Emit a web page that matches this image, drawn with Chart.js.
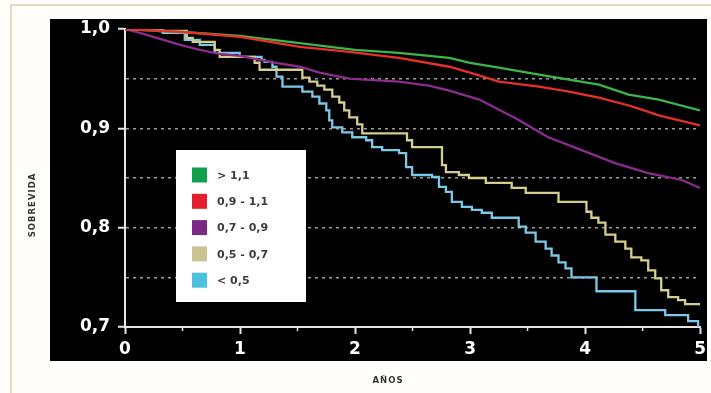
<!DOCTYPE html>
<html>
<head>
<meta charset="utf-8">
<script src="https://cdn.jsdelivr.net/npm/chart.js@4/dist/chart.umd.min.js"></script>
<style>
  html, body { margin: 0; padding: 0; background: #fffefa; }
  #wrap { width: 711px; height: 393px; position: relative; }
</style>
</head>
<body>
<div id="wrap"><canvas id="c" width="711" height="393"></canvas></div>
<script>
// ---- Data ----
const seriesLabels = ['> 1,1', '0,9 - 1,1', '0,7 - 0,9', '0,5 - 0,7', '< 0,5'];
const xTickLabels = ['0', '1', '2', '3', '4', '5'];
const yTickLabels = ['0,7', '0,8', '0,9', '1,0'];

// > 1,1 (green)
const greenT = [0, 0.5, 1.0, 1.5, 2.0, 2.38, 2.82, 3.0, 3.25, 3.6, 3.86, 4.12, 4.38, 4.64, 5.0];
const greenS = [1.0, 0.997, 0.993, 0.986, 0.979, 0.976, 0.971, 0.966, 0.961, 0.954, 0.949, 0.944, 0.934, 0.929, 0.918];

// 0,9 - 1,1 (red)
const redT = [0, 0.5, 1.0, 1.52, 1.95, 2.38, 2.82, 3.0, 3.25, 3.6, 3.86, 4.12, 4.38, 4.46, 4.64, 5.0];
const redS = [1.0, 0.997, 0.992, 0.982, 0.977, 0.971, 0.962, 0.956, 0.947, 0.942, 0.937, 0.931, 0.923, 0.920, 0.913, 0.903];

// 0,7 - 0,9 (purple)
const purpleT = [0, 0.13, 0.48, 0.65, 0.82, 1.0, 1.26, 1.52, 1.69, 1.95, 2.38, 2.64, 2.82, 3.08, 3.40, 3.68, 3.97, 4.26, 4.55, 4.84, 5.0];
const purpleS = [1.0, 0.996, 0.984, 0.979, 0.975, 0.973, 0.967, 0.962, 0.956, 0.950, 0.947, 0.943, 0.938, 0.929, 0.910, 0.891, 0.878, 0.865, 0.855, 0.848, 0.840];

// 0,5 - 0,7 (olive), step curve
const oliveT = [0, 0.303, 0.537, 0.589, 0.780, 0.823, 1.127, 1.170, 1.542, 1.603, 1.672, 1.733, 1.802, 1.863, 1.906, 1.950, 2.019, 2.063, 2.452, 2.496, 2.756, 2.790, 2.903, 2.990, 3.137, 3.362, 3.484, 3.769, 4.012, 4.055, 4.116, 4.177, 4.263, 4.350, 4.402, 4.489, 4.549, 4.610, 4.662, 4.723, 4.809, 4.870, 5.0];
const oliveS = [1.0, 0.998, 0.991, 0.987, 0.979, 0.972, 0.966, 0.959, 0.951, 0.947, 0.943, 0.939, 0.932, 0.926, 0.918, 0.911, 0.904, 0.895, 0.888, 0.881, 0.863, 0.856, 0.853, 0.850, 0.845, 0.840, 0.835, 0.826, 0.816, 0.810, 0.805, 0.793, 0.786, 0.779, 0.770, 0.767, 0.757, 0.749, 0.737, 0.730, 0.727, 0.723, 0.723];

// < 0,5 (light blue), step curve
const blueT = [0, 0.329, 0.520, 0.650, 0.780, 0.997, 1.187, 1.213, 1.282, 1.317, 1.369, 1.542, 1.629, 1.690, 1.750, 1.776, 1.802, 1.889, 1.976, 2.097, 2.149, 2.236, 2.383, 2.444, 2.496, 2.669, 2.730, 2.790, 2.842, 2.929, 3.016, 3.102, 3.189, 3.423, 3.484, 3.570, 3.657, 3.709, 3.769, 3.830, 3.882, 4.099, 4.437, 4.697, 4.896, 4.983];
const blueS = [1.0, 0.996, 0.989, 0.984, 0.976, 0.972, 0.969, 0.967, 0.962, 0.952, 0.942, 0.937, 0.932, 0.925, 0.918, 0.908, 0.901, 0.896, 0.891, 0.888, 0.881, 0.878, 0.875, 0.861, 0.853, 0.851, 0.841, 0.836, 0.826, 0.821, 0.818, 0.815, 0.810, 0.801, 0.795, 0.786, 0.779, 0.772, 0.765, 0.759, 0.750, 0.736, 0.717, 0.712, 0.706, 0.700];

const lineColors = ['#3cb54b', '#e8302a', '#8c2c90', '#d4ce8f', '#7cc8e8'];
const legendColors = ['#0fa04b', '#e41f2d', '#7a2a84', '#c9c291', '#4ac1dd'];

function pts(t, s) { return t.map((x, i) => ({ x: x, y: s[i] })); }

const seriesData = [pts(greenT, greenS), pts(redT, redS), pts(purpleT, purpleS), pts(oliveT, oliveS), pts(blueT, blueS)];
const steppedMode = [false, false, false, 'before', 'before'];
const drawOrder = [1, 0, 2, 3, 4];

const datasets = seriesData.map((d, i) => ({
  label: seriesLabels[i],
  data: d,
  borderColor: lineColors[i],
  backgroundColor: legendColors[i],
  borderWidth: 2.3,
  pointRadius: 0,
  fill: false,
  tension: 0,
  stepped: steppedMode[i],
  order: drawOrder[i]
}));

const bgPlugin = {
  id: 'bg',
  beforeDraw(chart) {
    const ctx = chart.ctx;
    ctx.save();
    ctx.fillStyle = '#fffefa';
    ctx.fillRect(0, 0, chart.width, chart.height);
    ctx.strokeStyle = '#e7d9bd';
    ctx.lineWidth = 2;
    ctx.beginPath();
    ctx.moveTo(11, 393); ctx.lineTo(11, 5); ctx.lineTo(711, 5);
    ctx.stroke();
    ctx.fillStyle = '#000000';
    ctx.fillRect(50, 19, 657, 342);
    ctx.restore();
  }
};

const extrasPlugin = {
  id: 'extras',
  afterDraw(chart) {
    const ctx = chart.ctx;
    const xs = chart.scales.x;
    const ca = chart.chartArea;
    ctx.save();
    // minor x ticks (half years)
    ctx.strokeStyle = '#e6e6e6';
    ctx.lineWidth = 1.5;
    for (let i = 0; i < 5; i++) {
      const px = xs.getPixelForValue(i + 0.5);
      ctx.beginPath();
      ctx.moveTo(px, ca.bottom);
      ctx.lineTo(px, ca.bottom + 4);
      ctx.stroke();
    }
    // legend box
    ctx.fillStyle = '#ffffff';
    ctx.fillRect(176, 150, 130, 152);
    chart.data.datasets.forEach((ds, i) => {
      const cy = 175 + i * 26.3;
      ctx.fillStyle = legendColors[i];
      ctx.fillRect(192, cy - 7.5, 15, 15);
      ctx.fillStyle = '#3d3d3d';
      ctx.font = 'bold 11px "DejaVu Sans"';
      ctx.textAlign = 'left';
      ctx.textBaseline = 'middle';
      ctx.fillText(ds.label, 217, cy + 1);
    });
    // axis titles
    ctx.fillStyle = '#333333';
    ctx.font = 'bold 8.5px "DejaVu Sans"';
    ctx.textAlign = 'center';
    ctx.textBaseline = 'middle';
    try { ctx.letterSpacing = '1px'; } catch (e) {}
    ctx.fillText('AÑOS', 388, 381);
    ctx.translate(33, 205);
    ctx.rotate(-Math.PI / 2);
    ctx.fillText('SOBREVIDA', 0, 0);
    ctx.restore();
  }
};

new Chart(document.getElementById('c'), {
  type: 'line',
  data: { datasets: datasets },
  options: {
    responsive: false,
    animation: false,
    devicePixelRatio: 1,
    layout: { padding: { top: 29, right: 9, left: 0, bottom: 0 } },
    plugins: { legend: { display: false }, tooltip: { enabled: false } },
    scales: {
      x: {
        type: 'linear',
        min: 0, max: 5,
        afterFit(scale) { scale.height = 66; },
        ticks: {
          stepSize: 1,
          autoSkip: false,
          maxRotation: 0,
          padding: 5,
          color: '#ffffff',
          font: { family: '"DejaVu Sans"', size: 17, weight: 'bold' },
          callback: (v) => xTickLabels[Math.round(v)] ?? ''
        },
        grid: { drawOnChartArea: false, drawTicks: true, tickLength: 7, tickColor: '#e6e6e6', tickWidth: 2 },
        border: { display: true, color: '#e6e6e6', width: 2 }
      },
      y: {
        type: 'linear',
        min: 0.7, max: 1.0,
        afterFit(scale) { scale.width = 125; },
        ticks: {
          stepSize: 0.05,
          autoSkip: false,
          padding: 8,
          color: '#ffffff',
          font: { family: '"DejaVu Sans"', size: 17, weight: 'bold' },
          callback: (v) => {
            const k = Math.round(v * 100);
            if (k % 10 !== 0) return '';
            return yTickLabels[(k - 70) / 10] ?? '';
          }
        },
        grid: {
          drawTicks: true,
          tickLength: 7,
          tickWidth: 2,
          lineWidth: 1.5,
          color: (ctx) => {
            const k = Math.round(ctx.tick.value * 100);
            return (k > 70 && k < 100) ? '#9c9c9c' : 'rgba(0,0,0,0)';
          },
          tickColor: (ctx) => {
            const k = Math.round(ctx.tick.value * 100);
            return (k % 10 === 0) ? '#e6e6e6' : 'rgba(0,0,0,0)';
          }
        },
        border: { display: true, color: '#e6e6e6', width: 2, dash: [3, 4] }
      }
    }
  },
  plugins: [bgPlugin, extrasPlugin]
});
</script>
</body>
</html>
